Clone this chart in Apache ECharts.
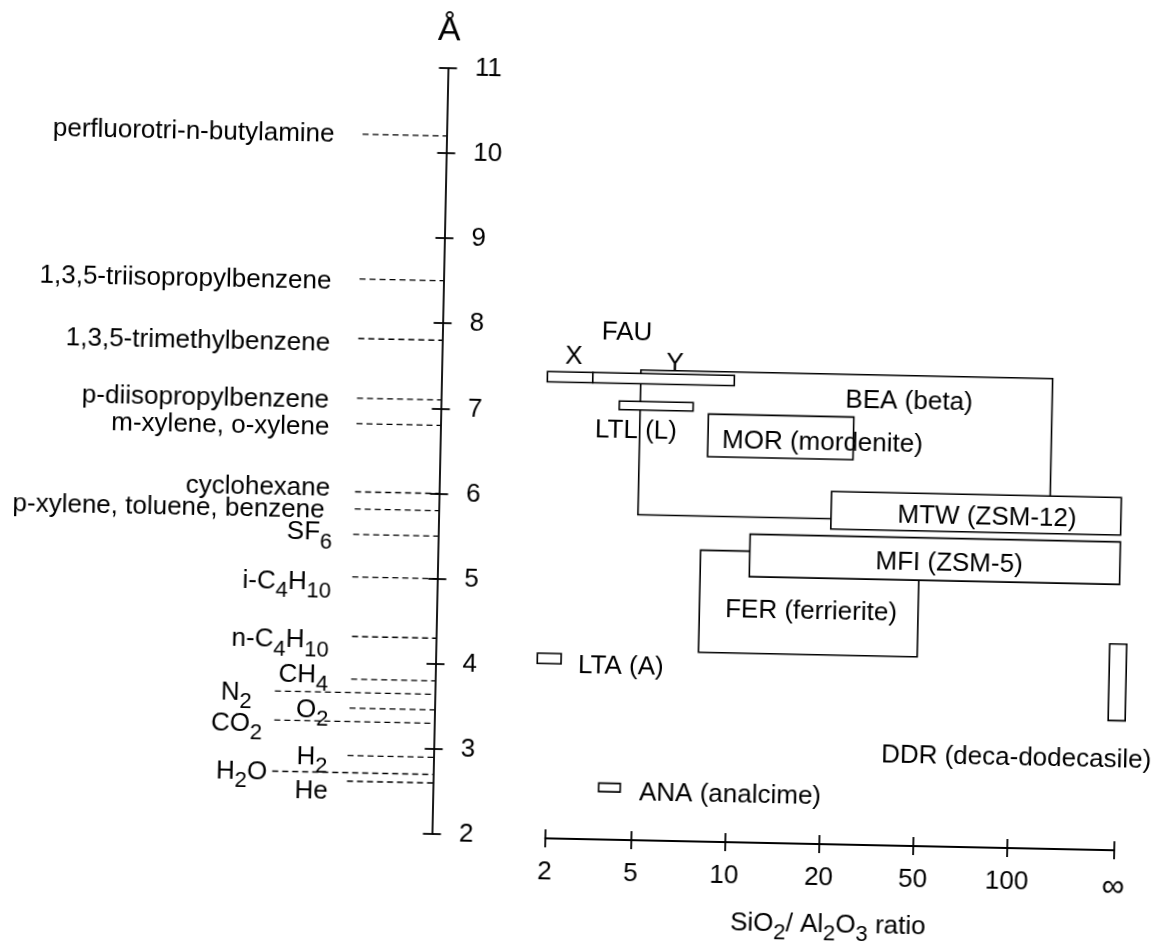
<!DOCTYPE html>
<html>
<head>
<meta charset="utf-8">
<title>Zeolite pore sizes and kinetic diameters</title>
<script src="https://cdn.jsdelivr.net/npm/echarts@6/dist/echarts.min.js"></script>
<style>
  html, body { margin: 0; padding: 0; background: #fff; overflow: hidden; }
  /* the printed figure sits slightly turned on the page */
  #chart { width: 1161px; height: 949px; transform: rotate(1.2deg); transform-origin: 50% 50%; }
</style>
</head>
<body>
<div id="chart"></div>
<script>
// ---------------- data ----------------
// Pore-size axis (Å)
const poreAxisMin = 2;
const poreAxisMax = 11;
const poreAxisStep = 1;

// Probe molecules and their kinetic diameters (Å); "_n" marks a subscript
const moleculeNames = [
  'perfluorotri-n-butylamine', '1,3,5-triisopropylbenzene', '1,3,5-trimethylbenzene',
  'p-diisopropylbenzene', 'm-xylene, o-xylene', 'cyclohexane', 'p-xylene, toluene, benzene',
  'SF_6', 'i-C_4H_10', 'n-C_4H_10', 'CH_4', 'N_2', 'O_2', 'CO_2', 'H_2', 'H_2O', 'He'
];
const moleculeDiameters = [10.2, 8.5, 7.8, 7.1, 6.8, 6.0, 5.8, 5.5, 5.0, 4.3, 3.8, 3.64, 3.46, 3.3, 2.9, 2.7, 2.6];

// SiO2/Al2O3 ratio axis
const ratioTickValues = [2, 5, 10, 20, 50, 100, Infinity];
const ratioTickLabels = ['2', '5', '10', '20', '50', '100', '∞'];

// Framework types: SiO2/Al2O3 range and pore-size range (Å)
const frameworkNames = [
  'BEA (beta)', 'FER (ferrierite)', 'MOR (mordenite)', 'MTW (ZSM-12)', 'MFI (ZSM-5)',
  'LTL (L)', 'X', 'Y', 'LTA (A)', 'ANA (analcime)', 'DDR (deca-dodecasile)'
];
const ratioLow  = [5,   8,   8.3,  21,       11.5,     4,    1.85, 3,    1.77, 3.5,  Infinity];
const ratioHigh = [150, 50,  25.7, Infinity, Infinity, 7.4,  3,    10,   2.28, 4.4,  Infinity];
const poreLow   = [5.8, 4.2, 6.5,  5.68,     5.1,      7.03, 7.34, 7.34, 4.03, 2.54, 3.5];
const poreHigh  = [7.5, 5.4, 7.0,  6.12,     5.6,      7.13, 7.46, 7.46, 4.15, 2.64, 4.4];

// Caption over the X / Y faujasite bars
const groupCaptions = ['FAU'];

// ---------------- layout & style ----------------
const FONT = "'Liberation Sans', Arial, Helvetica, sans-serif";
const INK = '#000';
const TEXT_SIZE = 26;

// slot of each ratio tick along the bottom axis (ordinal-like spacing)
const ratioTickSlots = [0, 0.915, 1.91, 2.915, 3.915, 4.915, 6.05];
const SLOT_MAX = ratioTickSlots[ratioTickSlots.length - 1];

// molecule label placement: [label gap from axis px, dash length px, vertical nudge px]
const moleculeLayout = [
  [112, 84, 1], [112, 84, 3], [112, 84, 6], [112, 84, 3], [111, 84, 4], [109, 84, -3],
  [114, 84, 2], [106, 85, -1], [106, 85, 6], [107, 84, 5], [107, 84, -3], [183, 160, 2],
  [106, 85, 3], [172, 160, 4], [106, 86, 2], [166, 161, 1], [105, 86, 11]
];

// framework label anchors in axis units: [slot, Å, align]
const frameworkLabelLayout = [
  [3.772, 7.191, 'center'], [2.777, 4.700, 'center'], [1.793, 6.687, 'left'],
  [4.627, 5.859, 'center'], [4.234, 5.309, 'center'], [0.875, 6.783, 'center'],
  [0.200, 7.637, 'center'], [1.276, 7.580, 'center'], [0.312, 4.009, 'left'],
  [0.989, 2.532, 'left'], [4.990, 3.036, 'center']
];
const groupCaptionLayout = [[0.758, 7.932]];

const MIN_BOX_WIDTH = 17; // px, for frameworks sitting exactly at ∞

// map a SiO2/Al2O3 ratio onto the bottom axis
function ratioToSlot(r) {
  const n = ratioTickValues.length;
  if (!isFinite(r)) return ratioTickSlots[n - 1];
  const last = n - 2;
  if (r >= ratioTickValues[last]) {
    // beyond 100 the scale runs as 1 - 100/r up to ∞
    const f = 1 - ratioTickValues[last] / r;
    return ratioTickSlots[last] + (ratioTickSlots[n - 1] - ratioTickSlots[last]) * f;
  }
  let i = 0;
  while (i < last - 1 && r > ratioTickValues[i + 1]) i++;
  const t0 = ratioTickValues[i], t1 = ratioTickValues[i + 1];
  return ratioTickSlots[i] + (ratioTickSlots[i + 1] - ratioTickSlots[i]) * Math.log(r / t0) / Math.log(t1 / t0);
}

// turn "CO_2" into rich-text markup with a lowered subscript
function richSub(s) {
  return s.split(/_(\d+)/).map((t, i) => t ? (i % 2 ? '{s|' + t + '}' : '{m|' + t + '}') : '').join('');
}

const RICH = {
  m: { fontSize: TEXT_SIZE, fontFamily: FONT, color: INK, fill: INK, verticalAlign: 'middle' },
  s: { fontSize: 22, fontFamily: FONT, color: INK, fill: INK, verticalAlign: 'middle', padding: [19, 0, 0, 0] }
};

const lineStyle = { color: INK, width: 1.8 };

const chart = echarts.init(document.getElementById('chart'), null, { renderer: 'canvas' });

chart.setOption({
  animation: false,
  backgroundColor: '#fff',
  textStyle: { fontFamily: FONT, color: INK },
  grid: [
    { left: 0, width: 439.5, top: 70.8, height: 766.3 },
    { left: 552.7, width: 569, top: 70.8, height: 766.3 }
  ],
  xAxis: [
    { gridIndex: 0, type: 'value', min: 0, max: 1, show: false },
    {
      gridIndex: 1, type: 'value', min: 0, max: SLOT_MAX, position: 'bottom', offset: 2,
      axisLine: { show: true, onZero: false, lineStyle },
      axisTick: { show: true, customValues: ratioTickSlots, length: 9, lineStyle },
      axisLabel: {
        show: true, customValues: ratioTickSlots, margin: 21,
        fontSize: TEXT_SIZE, fontFamily: FONT, color: INK,
        formatter: v => {
          const i = ratioTickSlots.findIndex(s => Math.abs(s - v) < 1e-6);
          return i === ratioTickSlots.length - 1 ? '{inf|' + ratioTickLabels[i] + '}' : ratioTickLabels[i];
        },
        rich: { inf: { fontSize: 32, fontFamily: FONT, color: INK } }
      },
      splitLine: { show: false },
      name: richSub('SiO_2/ Al_2O_3 ratio'),
      nameLocation: 'middle', nameGap: 60,
      nameTextStyle: { fontSize: TEXT_SIZE, fontFamily: FONT, color: INK, rich: RICH }
    },
    {
      gridIndex: 1, type: 'value', min: 0, max: SLOT_MAX, position: 'bottom', offset: 2,
      axisLine: { show: false, onZero: false },
      axisTick: { show: true, inside: true, customValues: ratioTickSlots, length: 9, lineStyle },
      axisLabel: { show: false },
      splitLine: { show: false }
    }
  ],
  yAxis: [
    {
      gridIndex: 0, type: 'value', min: poreAxisMin, max: poreAxisMax, interval: poreAxisStep,
      position: 'right',
      axisLine: { show: true, onZero: false, lineStyle },
      axisTick: { show: true, length: 9, lineStyle },
      axisLabel: { show: true, margin: 27, fontSize: TEXT_SIZE, fontFamily: FONT, color: INK, padding: [14, 0, 0, 0] },
      splitLine: { show: false }
    },
    {
      gridIndex: 0, type: 'value', min: poreAxisMin, max: poreAxisMax, interval: poreAxisStep,
      position: 'right',
      axisLine: { show: false, onZero: false },
      axisTick: { show: true, inside: true, length: 9, lineStyle },
      axisLabel: { show: false },
      splitLine: { show: false }
    },
    { gridIndex: 1, type: 'value', min: poreAxisMin, max: poreAxisMax, show: false }
  ],
  graphic: [
    {
      type: 'text', x: 440, y: 34,
      style: { text: 'Å', fontSize: 34, fontFamily: FONT, fill: INK, align: 'center', verticalAlign: 'middle' }
    }
  ],
  series: [
    {
      // dashed guide from each molecule name to its diameter on the Å axis
      type: 'custom', name: 'molecules', xAxisIndex: 0, yAxisIndex: 0,
      data: moleculeDiameters.map(d => [1, d]),
      encode: { x: 0, y: 1 },
      renderItem: (params, api) => {
        const i = params.dataIndex;
        const p = api.coord([1, api.value(1)]);
        const [gap, len, dy] = moleculeLayout[i];
        return {
          type: 'group',
          children: [
            {
              type: 'line',
              shape: { x1: p[0] - len, y1: p[1], x2: p[0], y2: p[1] },
              style: { stroke: INK, lineWidth: 1.3, lineDash: [6, 4] }
            },
            {
              type: 'text', x: p[0] - gap, y: p[1] + dy,
              style: {
                text: richSub(moleculeNames[i]), rich: RICH, fill: INK,
                fontSize: TEXT_SIZE, fontFamily: FONT, align: 'right', verticalAlign: 'middle'
              }
            }
          ]
        };
      }
    },
    {
      // framework boxes: SiO2/Al2O3 range against pore size
      type: 'custom', name: 'frameworks', xAxisIndex: 1, yAxisIndex: 2,
      data: frameworkNames.map((_, i) => [ratioToSlot(ratioLow[i]), ratioToSlot(ratioHigh[i]), poreLow[i], poreHigh[i]]),
      encode: { x: [0, 1], y: [2, 3] },
      renderItem: (params, api) => {
        const i = params.dataIndex;
        const a = api.coord([api.value(0), api.value(3)]);
        const b = api.coord([api.value(1), api.value(2)]);
        let l = a[0], r = b[0];
        if (r - l < MIN_BOX_WIDTH) {
          const c = (l + r) / 2;
          l = c - MIN_BOX_WIDTH / 2;
          r = c + MIN_BOX_WIDTH / 2;
        }
        const [ls, ly, align] = frameworkLabelLayout[i];
        const lp = api.coord([ls, ly]);
        return {
          type: 'group',
          children: [
            {
              type: 'rect', z2: i,
              shape: { x: l, y: a[1], width: r - l, height: b[1] - a[1] },
              style: { fill: '#fff', stroke: INK, lineWidth: 1.6 }
            },
            {
              type: 'text', z2: 100, x: lp[0], y: lp[1],
              style: {
                text: frameworkNames[i], fill: INK, fontSize: TEXT_SIZE, fontFamily: FONT,
                align: align, verticalAlign: 'middle'
              }
            }
          ]
        };
      }
    },
    {
      type: 'custom', name: 'captions', xAxisIndex: 1, yAxisIndex: 2,
      data: groupCaptionLayout,
      encode: { x: 0, y: 1 },
      renderItem: (params, api) => {
        const p = api.coord([api.value(0), api.value(1)]);
        return {
          type: 'text', x: p[0], y: p[1], z2: 100,
          style: {
            text: groupCaptions[params.dataIndex], fill: INK, fontSize: TEXT_SIZE, fontFamily: FONT,
            align: 'center', verticalAlign: 'middle'
          }
        };
      }
    }
  ]
});
</script>
</body>
</html>
